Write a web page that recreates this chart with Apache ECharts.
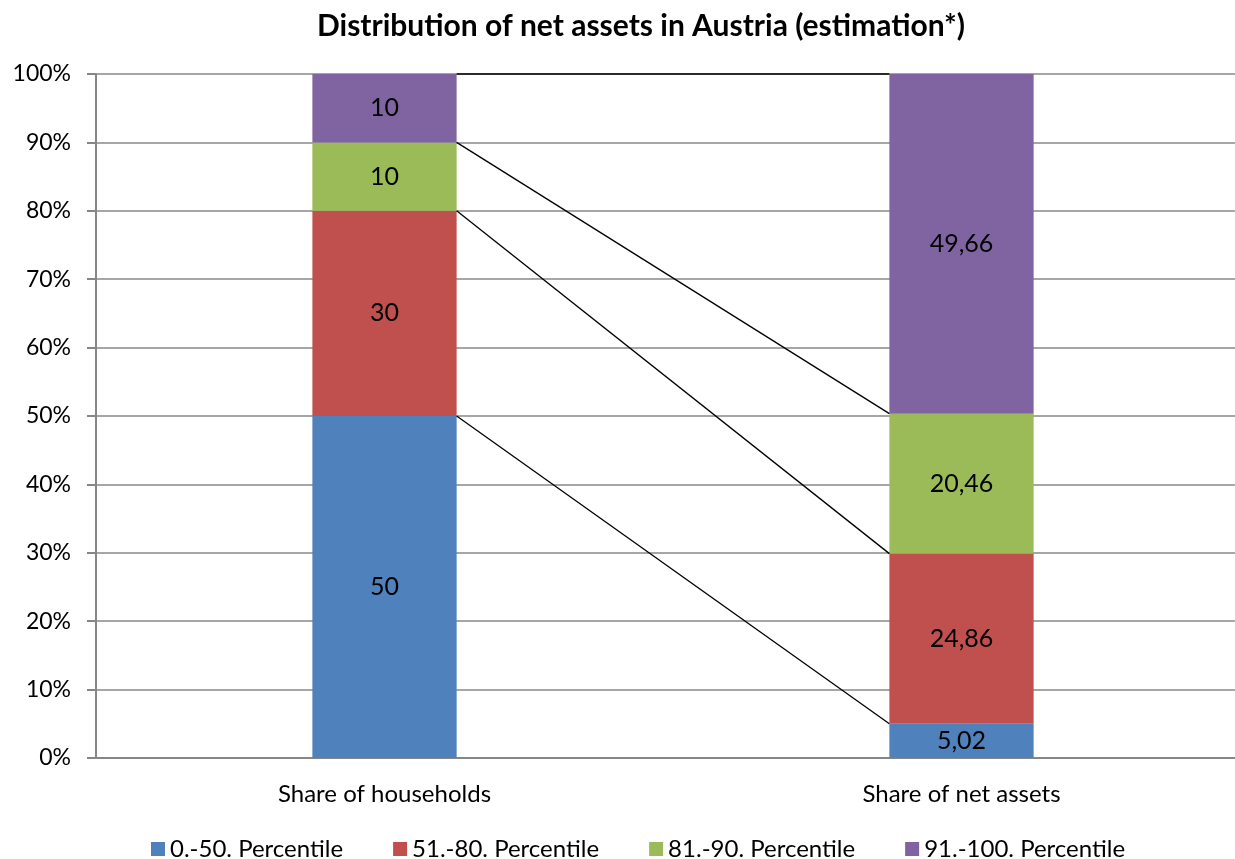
<!DOCTYPE html>
<html>
<head>
<meta charset="utf-8">
<script src="https://cdn.jsdelivr.net/npm/echarts@6/dist/echarts.min.js"></script>
<style>
  html, body { margin: 0; padding: 0; background: #fff; }
  #chart { width: 1235px; height: 859px; }
</style>
</head>
<body>
<div id="chart"></div>
<script>
// categories and series
const categories = ['Share of households', 'Share of net assets']
const seriesNames = ['0.-50. Percentile', '51.-80. Percentile', '81.-90. Percentile', '91.-100. Percentile']
const p0to50 = [50, 5.02]
const p51to80 = [30, 24.86]
const p81to90 = [10, 20.46]
const p91to100 = [10, 49.66]
const colors = ['#4F81BD', '#C0504D', '#9BBB59', '#8064A2']
const yTicks = [0, 10, 20, 30, 40, 50, 60, 70, 80, 90, 100]

const FONT = 'Lato, "Open Sans", sans-serif'
const BAR_WIDTH = 0.25

// cumulative boundaries for the connector lines
const stacks = [p0to50, p51to80, p81to90, p91to100]
const connectors = []
let left = 0, right = 0
stacks.forEach(s => {
  left += s[0]
  right += s[1]
  connectors.push([0, left, right])
})

const chart = echarts.init(document.getElementById('chart'))

const barSeries = stacks.map((vals, i) => ({
  name: seriesNames[i],
  type: 'bar',
  stack: 'total',
  barWidth: (BAR_WIDTH * 100) + '%',
  itemStyle: { color: colors[i] },
  label: {
    show: true,
    position: 'inside',
    color: '#000',
    fontFamily: FONT,
    fontSize: 25,
    formatter: p => String(p.value).replace('.', ',')
  },
  emphasis: { disabled: true },
  data: vals
}))

chart.setOption({
  animation: false,
  title: {
    text: 'Distribution of net assets in Austria (estimation*)',
    left: 636,
    textAlign: 'center',
    top: 6,
    textStyle: { fontFamily: FONT, fontSize: 30, fontWeight: 'bold', color: '#000' }
  },
  legend: {
    data: seriesNames,
    top: 832,
    left: 146,
    itemWidth: 14,
    itemHeight: 14,
    itemGap: 50,
    icon: 'rect',
    textStyle: { fontFamily: FONT, fontSize: 24, color: '#000' }
  },
  grid: { left: 96, width: 1154, top: 74, height: 684, outerBoundsMode: 'none', containLabel: false },
  xAxis: {
    type: 'category',
    data: categories,
    axisLine: { lineStyle: { color: '#868686', width: 2 } },
    axisTick: { show: false },
    axisLabel: { fontFamily: FONT, fontSize: 24, color: '#000', margin: 24 }
  },
  yAxis: {
    type: 'value',
    min: yTicks[0],
    max: yTicks[yTicks.length - 1],
    interval: 10,
    axisLine: { show: true, lineStyle: { color: '#868686', width: 2 } },
    axisTick: { show: true, length: 9, lineStyle: { color: '#868686', width: 2 } },
    splitLine: { lineStyle: { color: '#A6A6A6', width: 2 } },
    axisLabel: { fontFamily: FONT, fontSize: 23, color: '#000', margin: 25, formatter: '{value}%' }
  },
  series: barSeries.concat([{
    type: 'custom',
    silent: true,
    z: 5,
    encode: { x: 0, y: 1 },
    data: connectors,
    renderItem: (params, api) => {
      const a = api.coord([0, api.value(1)])
      const b = api.coord([1, api.value(2)])
      const half = api.size([1, 0])[0] * BAR_WIDTH / 2
      return {
        type: 'line',
        shape: { x1: a[0] + half, y1: a[1], x2: b[0] - half, y2: b[1] },
        style: { stroke: '#000', lineWidth: 1.3 }
      }
    }
  }])
})
</script>
</body>
</html>
